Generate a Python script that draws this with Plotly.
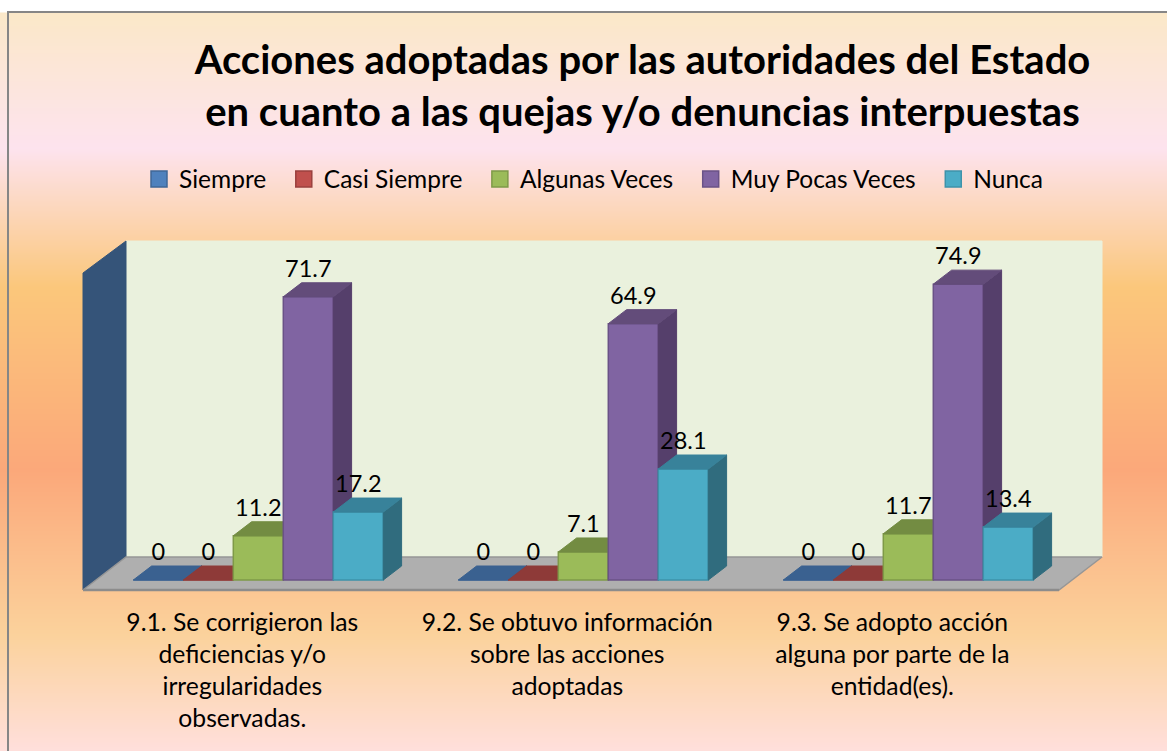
import numpy as np
import plotly.graph_objects as go

# ---------- data ----------
categories = ["9.1. Se corrigieron las<br>deficiencias y/o<br>irregularidades<br>observadas.",
              "9.2. Se obtuvo información<br>sobre las acciones<br>adoptadas",
              "9.3. Se adopto acción<br>alguna por parte de la<br>entidad(es)."]
series_names = ["Siempre", "Casi Siempre", "Algunas Veces", "Muy Pocas Veces", "Nunca"]
siempre = [0, 0, 0]
casi_siempre = [0, 0, 0]
algunas_veces = [11.2, 7.1, 11.7]
muy_pocas_veces = [71.7, 64.9, 74.9]
nunca = [17.2, 28.1, 13.4]
series_values = [siempre, casi_siempre, algunas_veces, muy_pocas_veces, nunca]

# ---------- style ----------
front = ["#4F81BD", "#C0504D", "#9BBB59", "#8064A2", "#4BACC6"]
edge = ["#3F6797", "#9A403E", "#7F9A48", "#6A5287", "#3E93AA"]
side = ["#2F4F76", "#7A302E", "#5F7436", "#553F6B", "#306C7E"]
top = ["#3A6190", "#8E3A38", "#738C42", "#634C7A", "#38829A"]
FONT = "Lato, Carlito, Calibri, sans-serif"
W, H = 1167, 751
PX_PER_UNIT = 3.95      # pixels per value unit
PX_PER_GROUP = 325.0    # pixels per category
X0_PX, Y0_PX = 258.3, 580.0   # pixel position of the first category centre / zero line
BOTTOM_PX = 590.0
BAR_W = 50 / PX_PER_GROUP
DX = 18.3 / PX_PER_GROUP
DY = 14.0 / PX_PER_UNIT
xrange_ = [-X0_PX / PX_PER_GROUP, (W - X0_PX) / PX_PER_GROUP]
yrange_ = [-(BOTTOM_PX - Y0_PX) / PX_PER_UNIT, Y0_PX / PX_PER_UNIT]
ydomain = [(H - BOTTOM_PX) / H, 1]

fig = go.Figure()

# ---------- background gradient (pixel axes) ----------
stops = [(12, "#FBE8C8"), (148, "#FDE3EE"), (287, "#FBC77B"), (470, "#FBA87A"), (635, "#FBD29C"), (751, "#FFDFDC")]
colorscale = [[(p - 12) / (751 - 12), c] for p, c in stops]
rows = np.arange(13, 752)
fig.add_trace(go.Heatmap(x=[9, W], y=rows, z=[[r, r] for r in rows], zmin=12, zmax=751,
                         colorscale=colorscale, showscale=False, hoverinfo="skip", xaxis="x", yaxis="y"))


def poly(xs, ys, fill, line=None, lw=1):
    fig.add_trace(go.Scatter(x=xs, y=ys, mode="lines", fill="toself", fillcolor=fill,
                             line=dict(color=line or fill, width=lw), showlegend=False,
                             hoverinfo="skip", xaxis="x", yaxis="y"))


# frame
fig.add_trace(go.Scatter(x=[8, 8, W], y=[751, 12, 12], mode="lines", line=dict(color="#868686", width=2),
                         showlegend=False, hoverinfo="skip", xaxis="x", yaxis="y"))
# walls and floor
poly([126, 1102, 1102, 126, 126], [241, 241, 557, 557, 241], "#EAF1DD")
poly([83, 126, 126, 83, 83], [273, 241, 557, 590, 273], "#355479")
poly([83, 1059, 1102, 126, 83], [590, 590, 557, 557, 590], "#AFAFAF", "#969696", 1.5)
fig.add_trace(go.Scatter(x=[83, 1059], y=[590, 590], mode="lines", line=dict(color="#8C8C8C", width=2.5),
                         showlegend=False, hoverinfo="skip", xaxis="x", yaxis="y"))

# ---------- bars, one overlaid subplot per series so that they stack left to right ----------
for i, (name, vals) in enumerate(zip(series_names, series_values)):
    n = i + 2
    xa, ya = f"x{n}", f"y{n}"
    xs = [g + (i - 2) * BAR_W for g in range(len(vals))]
    fig.add_trace(go.Bar(x=xs, y=vals, width=BAR_W, name=name, xaxis=xa, yaxis=ya, showlegend=False,
                         marker=dict(color=front[i], line=dict(color=edge[i], width=1.5))))
    sx, sy, tx, ty = [], [], [], []
    for x, v in zip(xs, vals):
        l, r = x - BAR_W / 2, x + BAR_W / 2
        sx += [r, r + DX, r + DX, r, r, None]
        sy += [0, DY, v + DY, v, 0, None]
        tx += [l, r, r + DX, l + DX, l, None]
        ty += [v, v, v + DY, v + DY, v, None]
    for px_, py_, col in ((sx, sy, side[i]), (tx, ty, top[i])):
        fig.add_trace(go.Scatter(x=px_, y=py_, mode="lines", fill="toself", fillcolor=col,
                                 line=dict(color=col, width=1), showlegend=False, hoverinfo="skip",
                                 xaxis=xa, yaxis=ya))

# legend entries (square swatches)
for i, name in enumerate(series_names):
    fig.add_trace(go.Scatter(x=[None], y=[None], mode="markers", name=name + "\u00a0\u00a0",
                             marker=dict(symbol="square", size=16, color=front[i], line=dict(color=edge[i], width=1.5)),
                             xaxis="x6", yaxis="y6", hoverinfo="skip"))

# data labels on top of everything
LABEL_LIFT = 6.5
lx, ly, lt = [], [], []
for i, vals in enumerate(series_values):
    for g, v in enumerate(vals):
        lx.append(g + (i - 2) * BAR_W)
        ly.append(v + LABEL_LIFT)
        lt.append(f"{v:g}")
fig.add_trace(go.Scatter(x=lx, y=ly, text=lt, mode="text", textposition="middle center",
                         textfont=dict(family=FONT, size=23.5, color="#000000"), showlegend=False,
                         hoverinfo="skip", xaxis="x6", yaxis="y6", cliponaxis=False))

# ---------- axes ----------
layout_axes = dict(
    xaxis=dict(domain=[0, 1], range=[0, W], visible=False, fixedrange=True),
    yaxis=dict(domain=[0, 1], range=[H, 0], visible=False, fixedrange=True),
    xaxis2=dict(domain=[0, 1], range=xrange_, anchor="y2", showgrid=False, zeroline=False, showline=False,
                ticks="", tickmode="array", tickvals=[g - 16 / PX_PER_GROUP for g in range(3)],
                ticktext=categories, tickfont=dict(family=FONT, size=24.7, color="#000000"), ticklabelstandoff=15,
                fixedrange=True),
    yaxis2=dict(domain=ydomain, range=yrange_, anchor="x2", visible=False, fixedrange=True),
)
for n in range(3, 7):
    layout_axes[f"xaxis{n}"] = dict(overlaying="x2", range=xrange_, visible=False, fixedrange=True, anchor=f"y{n}")
    layout_axes[f"yaxis{n}"] = dict(overlaying="y2", range=yrange_, visible=False, fixedrange=True, anchor=f"x{n}")

fig.update_layout(
    width=W, height=H, margin=dict(l=0, r=0, t=0, b=0, pad=0),
    paper_bgcolor="#FFFFFF", plot_bgcolor="rgba(0,0,0,0)",
    barmode="overlay",
    font=dict(family=FONT, color="#000000"),
    title=dict(text="<b>Acciones adoptadas por las autoridades del Estado<br>en cuanto a las quejas y/o denuncias interpuestas</b>",
               x=642.5 / W, xanchor="center", y=1 - 74 / H, yanchor="middle",
               font=dict(family=FONT, size=40, color="#000000")),
    legend=dict(orientation="h", x=600 / W, xanchor="center", y=1 - 179 / H, yanchor="middle",
                font=dict(family=FONT, size=24.5, color="#000000"), bgcolor="rgba(0,0,0,0)",
                itemwidth=30, itemsizing="trace", traceorder="normal"),
    **layout_axes,
)

fig.write_html("out.html", config=dict(displayModeBar=False),
               post_script="document.body.style.margin='0';document.documentElement.style.overflow='hidden';")
